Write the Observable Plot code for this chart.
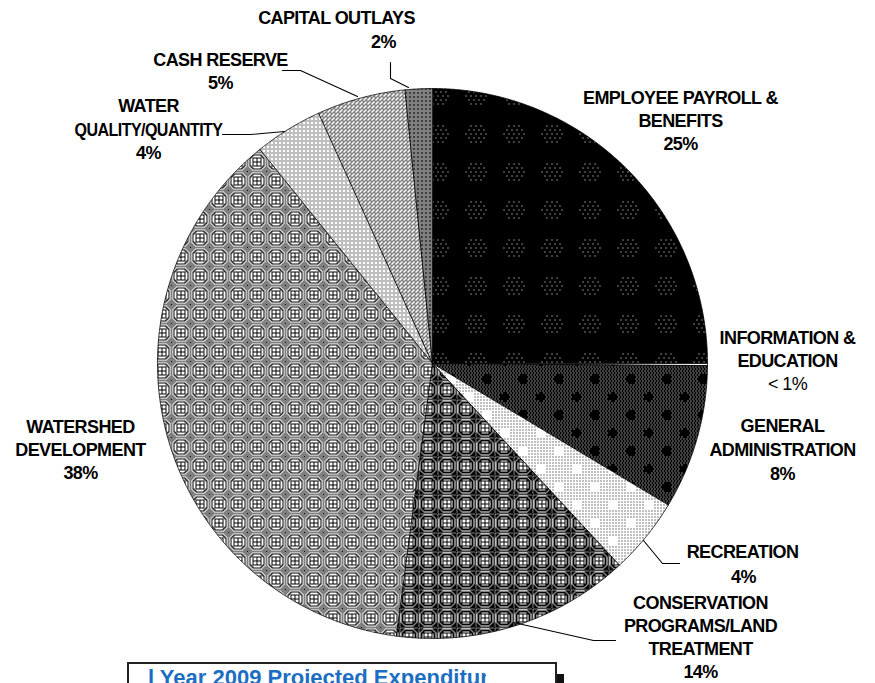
<!DOCTYPE html>
<html><head><meta charset="utf-8">
<script src="https://cdn.jsdelivr.net/npm/d3@7"></script>
<script src="https://cdn.jsdelivr.net/npm/@observablehq/plot@0.6"></script>
<style>
html,body{margin:0;padding:0;background:#fff;overflow:hidden}
#wrap{position:relative;width:875px;height:683px;overflow:hidden;background:#fff}
#caption{position:absolute;left:127px;top:662px;width:426px;height:40px;border:2px solid #222;border-bottom:none;background:#fff;overflow:hidden}
#shadow{position:absolute;left:557px;top:674px;width:7px;height:20px;background:#111}
#capclip{position:absolute;left:0;top:0;width:357px;height:40px;overflow:hidden}
#capclip span{position:absolute;left:19px;top:1px;font:bold 22px "Liberation Sans",Arial,sans-serif;color:#1b6ec2;white-space:nowrap}
</style></head>
<body><div id="wrap"><div id="chart"></div><div id="shadow"></div><div id="caption"><div id="capclip"><span id="captext"></span></div></div></div>
<script>
// ---- data ----
const categories = ["EMPLOYEE PAYROLL & BENEFITS","INFORMATION & EDUCATION","GENERAL ADMINISTRATION","RECREATION","CONSERVATION PROGRAMS/LAND TREATMENT","WATERSHED DEVELOPMENT","WATER QUALITY/QUANTITY","CASH RESERVE","CAPITAL OUTLAYS"];
const shares = [25, 0.12, 8.48, 4.5, 14, 37.1, 4, 5.2, 1.6];
const pctLabels = ["25%","< 1%","8%","4%","14%","38%","4%","5%","2%"];
const nameLines = [["EMPLOYEE PAYROLL &","BENEFITS"],["INFORMATION &","EDUCATION"],["GENERAL","ADMINISTRATION"],["RECREATION"],["CONSERVATION","PROGRAMS/LAND","TREATMENT"],["WATERSHED","DEVELOPMENT"],["WATER","QUALITY/QUANTITY"],["CASH RESERVE"],["CAPITAL OUTLAYS"]];
const captionText = "l Year 2009 Projected Expenditures";

// ---- layout (pixels) ----
const W = 875, H = 683, cx = 432, cy = 363, R = 275;
// [center x of name, y of first line, x of percent, line step]
const labelPos = [[680,98,680,23],[787,338,787,23],[782,426,782,24],[742,552,743,25],[700,603,700,23],[80,427,80,23],[148,106,148,23.5],[220,60,220,23],[336,18,383,24]];
const leaderPaths = [
  [[390,62],[390,78],[408,87]],
  [[282,70],[300,70],[357,96]],
  [[222,134],[250,134],[284,131]],
  [[643,540],[662,563],[679,563]],
  [[513,622],[593,640],[615,640]]
];
const patIds = ["pPay","pInfo","pGA","pRec","pCons","pWs","pWq","pCash","pCap"];

// ---- pixel patterns ----
function pixPattern(id, size, bg, fg, fn){
  let s = `<pattern id="${id}" width="${size}" height="${size}" patternUnits="userSpaceOnUse"><rect width="${size}" height="${size}" fill="${bg}"/>`;
  for (let y=0;y<size;y++){ let x=0; while(x<size){ if(fn(x,y)){ const x0=x; while(x<size&&fn(x,y)) x++; s+=`<rect x="${x0}" y="${y}" width="${x-x0}" height="1" fill="${fg}"/>`; } else x++; } }
  return s+`</pattern>`;
}
const mod=(a,n)=>((a%n)+n)%n;
const blob=(x,y,r,s)=>{const h=s/2;const pts=[[0,0],[s,0],[0,s],[s,s],[h,h]];return pts.some(([px,py])=>(x-px)**2+(y-py)**2<=r*r);};
function octo(x,y){const dx=Math.abs(x-9),dy=Math.abs(y-9);const m=Math.max(dx,dy);return {dx,dy,m,o:Math.max(m,Math.floor((dx+dy)*0.72))};}
let defs = "";
defs += pixPattern("pPay",38,"#000","#fff",(x,y)=>{const dx=x-19,dy=y-19;if(mod(dy,4)!==0)return false;const r=Math.abs(dy/4);const ok=(r%2===0)?mod(dx,5)===0:mod(dx,5)===3;return ok&&dx*dx/121+dy*dy/100<=1;});
defs += `<pattern id="pInfo" width="4" height="4" patternUnits="userSpaceOnUse"><rect width="4" height="4" fill="#fff"/></pattern>`;
defs += pixPattern("pGA",36,"#000","#fff",(x,y)=>y%2===0&&mod(x+(y%4===0?0:1),3)===0&&!blob(x,y,4.5,36));
defs += pixPattern("pRec",36,"#fff","#000",(x,y)=>x%3===0&&y%3===0&&!blob(x,y,5,36));
defs += pixPattern("pCons",19,"#fff","#000",(x,y)=>{const {dx,dy,m,o}=octo(x,y);if(m<=4)return m===4||dx===0||dy===0;if(o===5)return false;if(o===6||o===7)return true;if(o===8)return false;return !(x===0||y===0)||((x+y)%2===0);});
defs += pixPattern("pWs",19,"#fff","#000",(x,y)=>{const {dx,dy,m,o}=octo(x,y);if(m<=4)return m===4||dx===0||dy===0;if(o===7)return true;if(o<9)return false;return (x+y)%2===0;});
defs += pixPattern("pWq",4,"#fff","#000",(x,y)=>y%2===0&&mod(x+(y%4===0?0:1),2)===0&&!(x===3&&y===2));
defs += pixPattern("pCash",8,"#fff","#000",(x,y)=>mod(x+y,4)===0||(x%4===2&&y%4===0));
defs += pixPattern("pCap",4,"#fff","#000",(x,y)=>(x+y)%2===0||(x%4===1&&y%4===0));
const defsSvg = document.createElementNS("http://www.w3.org/2000/svg","svg");
defsSvg.setAttribute("width","0");defsSvg.setAttribute("height","0");defsSvg.style.position="absolute";
defsSvg.innerHTML = `<defs>${defs}</defs>`;
document.body.prepend(defsSvg);

// ---- slices from shares ----
const arcs = d3.pie().sort(null).value(d=>d)(shares);
const slicePts = [];
arcs.forEach((a,i)=>{
  const n = Math.max(2, Math.ceil((a.endAngle-a.startAngle)/(Math.PI/720)));
  const f = `url(#${patIds[i]})`;
  slicePts.push({x:cx,y:cy,k:categories[i],f});
  for(let j=0;j<=n;j++){const t=a.startAngle+(a.endAngle-a.startAngle)*j/n;slicePts.push({x:cx+R*Math.sin(t),y:cy-R*Math.cos(t),k:categories[i],f});}
});

// ---- label rows ----
const boldRows = [], regRows = [];
nameLines.forEach((lines,i)=>{
  const [lx,ly,px,step]=labelPos[i];
  lines.forEach((t,j)=>boldRows.push({x:lx,y:ly+j*step,t}));
  const row={x:px,y:ly+lines.length*step,t:pctLabels[i]};
  (pctLabels[i].startsWith("<")?regRows:boldRows).push(row);
});
const leaderPts = leaderPaths.flatMap((p,i)=>p.map(([x,y])=>({x,y,k:i})));

const chart = Plot.plot({
  width: W, height: H, margin: 0,
  x: {domain:[0,W], range:[0,W], axis:null},
  y: {domain:[0,H], range:[0,H], axis:null},
  color: {type:"identity"},
  marks: [
    Plot.line(slicePts, {x:"x", y:"y", z:"k", fill:"f", stroke:"#000", strokeWidth:0.8, curve:"linear-closed"}),
    Plot.line(leaderPts, {x:"x", y:"y", z:"k", stroke:"#000", strokeWidth:1.1}),
    Plot.text(boldRows, {x:"x", y:"y", text:"t", fontSize:18, fontWeight:"bold", fontFamily:"Liberation Sans, Arial, sans-serif", fill:"#000"}),
    Plot.text(regRows, {x:"x", y:"y", text:"t", fontSize:18, fontFamily:"Liberation Sans, Arial, sans-serif", fill:"#000"})
  ]
});
chart.style.letterSpacing = "-0.6px";
// the bitmap original sets QUALITY/QUANTITY narrower than Arial would
chart.querySelectorAll("text").forEach(t=>{ if (t.textContent === "QUALITY/QUANTITY") { t.setAttribute("textLength","148"); t.setAttribute("lengthAdjust","spacingAndGlyphs"); } });
document.getElementById("chart").appendChild(chart);
document.getElementById("captext").textContent = captionText;
</script>
</body></html>
